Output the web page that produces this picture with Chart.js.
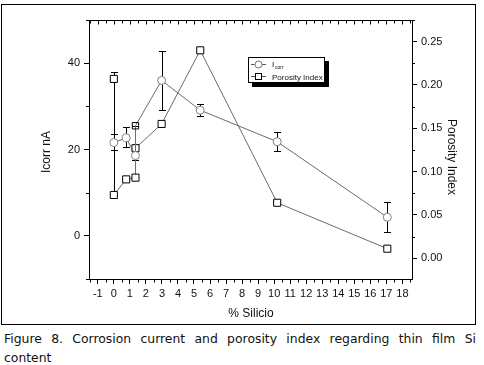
<!DOCTYPE html>
<html lang="en">
<head>
  <meta charset="UTF-8" />
  <title>Figure 8</title>
  <script src="https://cdn.jsdelivr.net/npm/chart.js@4.4.0/dist/chart.umd.min.js"></script>
  <style>
    html, body { margin: 0; padding: 0; background: #fff; }
    #wrap { position: relative; width: 484px; height: 365px; overflow: hidden; }
    #fig { position: absolute; left: 0; top: 0; }
    .cap { position: absolute; left: 4px; width: 472px; font-family: "DejaVu Sans", sans-serif; font-size: 12.4px; color: #111; }
    #cap1 { top: 331px; text-align: justify; text-align-last: justify; white-space: nowrap; word-spacing: 3px; }
    #cap2 { top: 350px; }
  </style>
</head>
<body>
  <div id="wrap">
    <canvas id="fig" width="484" height="326"></canvas>
    <div class="cap" id="cap1">Figure 8. Corrosion current and porosity index regarding thin film Si</div>
    <div class="cap" id="cap2">content</div>
  </div>

  <script>
    // x ticks (% Si) and axis ticks
    const xTicks = [-1, 0, 1, 2, 3, 4, 5, 6, 7, 8, 9, 10, 11, 12, 13, 14, 15, 16, 17, 18];
    const leftTicks = [0, 20, 40];
    const rightTicks = [0, 0.05, 0.10, 0.15, 0.20, 0.25];

    // corrosion current (nA), left axis
    const icorrX = [0, 0.77, 1.35, 1.35, 2.98, 5.39, 10.19, 17.06];
    const icorrY = [21.6, 22.7, 18.6, 25.5, 36.0, 29.1, 21.8, 4.3];
    const icorrLo = [19.8, 20.6, 17.6, 25.5, 29.1, 27.8, 19.6, 0.8];
    const icorrHi = [23.5, 25.3, 19.6, 25.5, 42.8, 30.5, 24.0, 7.9];

    // porosity index, right axis
    const poroX = [0, 0.77, 1.35, 1.35, 2.98, 5.39, 10.19, 17.06];
    const poroY = [0.073, 0.091, 0.093, 0.127, 0.155, 0.240, 0.064, 0.011];

    // stray porosity point at 0 % with its bar
    const poroExtraX = [0];
    const poroExtraY = [0.207];
    const poroExtraLo = [0.073];
    const poroExtraHi = [0.215];

    const FONT = '"Liberation Sans", Arial, sans-serif';
    const pts = (xs, ys) => xs.map((x, i) => ({ x: x, y: ys[i] }));

    function capBar(ctx, px, y1, y2, w) {
      ctx.beginPath();
      ctx.moveTo(px, y1); ctx.lineTo(px, y2);
      ctx.moveTo(px - w, y1); ctx.lineTo(px + w, y1);
      ctx.moveTo(px - w, y2); ctx.lineTo(px + w, y2);
      ctx.stroke();
    }

    const errorBars = {
      id: 'errorBars',
      beforeDatasetsDraw(chart) {
        const { ctx, scales } = chart;
        ctx.save();
        ctx.strokeStyle = '#000';
        ctx.lineWidth = 1;
        icorrX.forEach((x, i) => {
          const px = Math.round(scales.x.getPixelForValue(x)) + 0.5;
          capBar(ctx, px, Math.round(scales.y.getPixelForValue(icorrLo[i])) + 0.5,
            Math.round(scales.y.getPixelForValue(icorrHi[i])) + 0.5, 3.5);
        });
        poroExtraX.forEach((x, i) => {
          const px = Math.round(scales.x.getPixelForValue(x)) + 0.5;
          capBar(ctx, px, Math.round(scales.y2.getPixelForValue(poroExtraLo[i])) + 0.5,
            Math.round(scales.y2.getPixelForValue(poroExtraHi[i])) + 0.5, 3.5);
        });
        ctx.restore();
      }
    };

    const extras = {
      id: 'extras',
      afterDraw(chart) {
        const { ctx, scales, chartArea } = chart;
        const x = scales.x, y = scales.y, y2 = scales.y2;
        ctx.save();
        ctx.strokeStyle = '#000';
        ctx.lineWidth = 1;

        // top frame line and its inward ticks, bottom minor ticks
        const top = chartArea.top + 0.5, bot = chartArea.bottom + 0.5;
        ctx.beginPath();
        ctx.moveTo(chartArea.left, top); ctx.lineTo(chartArea.right, top);
        for (let v = -1.5; v <= 18.5; v += 0.5) {
          const px = Math.round(x.getPixelForValue(v)) + 0.5;
          const major = Number.isInteger(v);
          ctx.moveTo(px, top); ctx.lineTo(px, top + (major ? 4 : 3));
          if (!major) { ctx.moveTo(px, bot); ctx.lineTo(px, bot + 3); }
        }
        // left minor ticks
        [-10, 10, 30, 50].forEach(v => {
          const py = Math.round(y.getPixelForValue(v)) + 0.5;
          ctx.moveTo(chartArea.left, py); ctx.lineTo(chartArea.left - 3, py);
        });
        // right minor ticks
        [0.025, 0.075, 0.125, 0.175, 0.225, 0.275].forEach(v => {
          const py = Math.round(y2.getPixelForValue(v)) + 0.5;
          ctx.moveTo(chartArea.right, py); ctx.lineTo(chartArea.right + 3, py);
        });
        ctx.stroke();

        // axis titles
        ctx.fillStyle = '#111';
        ctx.font = '12px ' + FONT;
        ctx.textAlign = 'center';
        ctx.textBaseline = 'middle';
        ctx.fillText('% Silicio', 251, 314);
        ctx.save();
        ctx.translate(47, 152); ctx.rotate(-Math.PI / 2);
        ctx.fillText('Icorr nA', 0, 0);
        ctx.restore();
        ctx.save();
        ctx.translate(451, 157); ctx.rotate(Math.PI / 2);
        ctx.fillText('Porosity Index', 0, 0);
        ctx.restore();

        // legend box with drop shadow
        ctx.fillStyle = '#000';
        ctx.fillRect(252, 61, 77, 26);
        ctx.fillStyle = '#fff';
        ctx.fillRect(248, 57, 77, 26);
        ctx.strokeRect(248.5, 57.5, 76, 25);
        ctx.strokeStyle = '#555';
        ctx.beginPath();
        ctx.moveTo(251, 64.5); ctx.lineTo(266, 64.5);
        ctx.moveTo(251, 76.5); ctx.lineTo(266, 76.5);
        ctx.stroke();
        ctx.fillStyle = '#fff';
        ctx.beginPath(); ctx.arc(258.5, 64.5, 3.5, 0, Math.PI * 2); ctx.fill();
        ctx.strokeStyle = '#777'; ctx.stroke();
        ctx.fillRect(255.5, 73.5, 6, 6);
        ctx.strokeStyle = '#000'; ctx.strokeRect(255.5, 73.5, 6, 6);
        ctx.fillStyle = '#111';
        ctx.textAlign = 'left';
        ctx.textBaseline = 'alphabetic';
        ctx.font = '8px ' + FONT;
        ctx.fillText('I', 272, 67);
        ctx.font = '5px ' + FONT;
        ctx.fillText('corr', 275, 69);
        ctx.font = '8px ' + FONT;
        ctx.fillText('Porosity Index', 272, 80);

        // figure frame
        ctx.strokeStyle = '#000';
        ctx.strokeRect(1.5, 4.5, 474, 320);
        ctx.restore();
      }
    };

    const tickFont = { family: FONT, size: 11 };

    function drawChart() {
      new Chart(document.getElementById('fig'), {
        type: 'scatter',
        data: {
          datasets: [
            {
              label: 'Icorr',
              data: pts(icorrX, icorrY),
              yAxisID: 'y',
              showLine: true,
              borderColor: '#6a6a6a',
              borderWidth: 1,
              pointStyle: icorrX.map((v, i) => i === 3 ? 'rect' : 'circle'),
              pointRadius: icorrX.map((v, i) => i === 3 ? 4.5 : 4),
              pointBackgroundColor: icorrX.map((v, i) => i === 3 ? 'rgba(0,0,0,0)' : '#fff'),
              pointBorderColor: icorrX.map((v, i) => i === 3 ? '#000' : '#808080'),
              pointBorderWidth: 1
            },
            {
              label: 'Porosity Index',
              data: pts(poroX, poroY),
              yAxisID: 'y2',
              showLine: true,
              borderColor: '#6a6a6a',
              borderWidth: 1,
              pointStyle: 'rect',
              pointRadius: 5,
              pointBackgroundColor: '#fff',
              pointBorderColor: '#000',
              pointBorderWidth: 1
            },
            {
              label: 'extra',
              data: pts(poroExtraX, poroExtraY),
              yAxisID: 'y2',
              showLine: false,
              pointStyle: 'rect',
              pointRadius: 5,
              pointBackgroundColor: '#fff',
              pointBorderColor: '#000',
              pointBorderWidth: 1
            }
          ]
        },
        options: {
          responsive: false,
          animation: false,
          layout: { padding: { top: 20, left: 0, right: 0, bottom: 0 } },
          plugins: { legend: { display: false }, tooltip: { enabled: false } },
          scales: {
            x: {
              type: 'linear',
              position: 'bottom',
              min: -1.55,
              max: 18.6,
              afterBuildTicks: s => { s.ticks = xTicks.map(v => ({ value: v })); },
              afterFit: s => { s.height = 47; },
              ticks: { font: tickFont, color: '#111', padding: 3, maxRotation: 0, autoSkip: false },
              grid: { drawOnChartArea: false, drawTicks: true, tickLength: 5, tickColor: '#000' },
              border: { color: '#000', width: 1 }
            },
            y: {
              type: 'linear',
              position: 'left',
              min: -10,
              max: 50,
              afterBuildTicks: s => { s.ticks = leftTicks.map(v => ({ value: v })); },
              afterFit: s => { s.width = 89; },
              ticks: { font: tickFont, color: '#111', padding: 4 },
              grid: { drawOnChartArea: false, drawTicks: true, tickLength: 5, tickColor: '#000' },
              border: { color: '#000', width: 1 }
            },
            y2: {
              type: 'linear',
              position: 'right',
              min: -0.024,
              max: 0.275,
              afterBuildTicks: s => { s.ticks = rightTicks.map(v => ({ value: v })); },
              afterFit: s => { s.width = 72; },
              ticks: { font: tickFont, color: '#111', padding: 4, callback: v => v.toFixed(2) },
              grid: { drawOnChartArea: false, drawTicks: true, tickLength: 5, tickColor: '#000' },
              border: { color: '#000', width: 1 }
            }
          }
        },
        plugins: [errorBars, extras]
      });
    }

    // wait for the local font so canvas text does not fall back
    Promise.all([
      document.fonts.load('11px "Liberation Sans"'),
      document.fonts.load('12px "DejaVu Sans"')
    ]).then(drawChart, drawChart);
  </script>
</body>
</html>
